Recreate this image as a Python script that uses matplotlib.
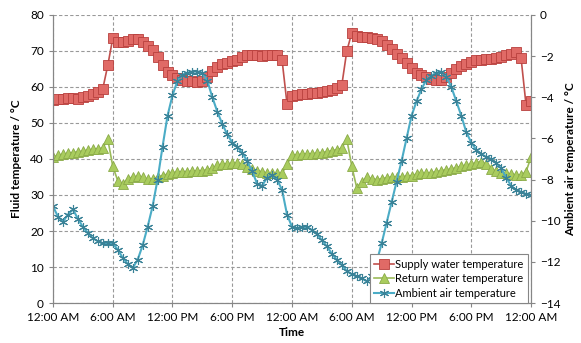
import matplotlib
matplotlib.use("Agg")
import matplotlib.pyplot as plt
import numpy as np

plt.rcParams['font.family'] = ['Lato', 'DejaVu Sans']

# half-hourly readings over two days (hours since midnight)
hours = np.arange(0, 48.5, 0.5)

supply = [56.5, 56.7, 56.8, 57.0, 57.0, 56.8, 57.2, 57.6, 58.0, 58.6,
          59.5, 66.0, 73.5, 72.5, 72.5, 72.8, 73.2, 73.2, 72.6, 71.5,
          70.3, 68.3, 66.2, 64.3, 63.3, 62.5, 62.0, 61.7, 61.6, 61.5,
          61.6, 62.8, 64.5, 65.5, 66.4, 66.8, 67.2, 67.6, 68.2, 68.8,
          69.0, 68.9, 68.7, 68.8, 68.8, 68.9, 67.5, 55.3, 57.5, 57.8,
          58.0, 58.0, 58.2, 58.3, 58.5, 58.8, 59.2, 59.7, 60.5, 70.0,
          75.0, 74.3, 74.0, 73.8, 73.6, 73.3, 72.8, 71.8, 70.6, 69.3,
          68.0, 66.8, 65.2, 64.0, 63.3, 62.8, 62.3, 62.0, 62.0, 62.8,
          64.0, 65.0, 65.8, 66.5, 67.0, 67.4, 67.6, 67.8, 67.9, 68.0,
          68.3, 68.8, 69.3, 69.6, 68.0, 55.0, 56.0]

ret = [40.6, 41.0, 41.3, 41.6, 41.8, 42.0, 42.2, 42.5, 42.7, 42.9,
       43.0, 45.5, 38.0, 34.0, 33.0, 34.5, 35.0, 35.2, 35.0, 34.4,
       34.5, 35.0, 35.4, 35.8, 36.2, 36.4, 36.5, 36.5, 36.6, 36.7,
       36.8, 37.0, 37.5, 38.2, 38.5, 38.7, 38.8, 38.8, 38.5, 37.8,
       37.2, 36.8, 36.4, 36.1, 36.0, 36.0, 36.0, 38.5, 41.0, 41.2,
       41.3, 41.4, 41.5, 41.6, 41.8, 42.0, 42.3, 42.6, 43.0, 45.5,
       38.0, 32.0, 33.5, 35.0, 34.5, 34.3, 34.5, 34.8, 35.0, 35.0,
       35.1, 35.2, 35.4, 35.8, 36.0, 36.0, 36.2, 36.5, 36.8, 37.0,
       37.2, 37.6, 38.0, 38.3, 38.6, 39.0, 39.3, 38.5, 37.2, 36.6,
       36.2, 36.0, 35.8, 35.6, 35.5, 36.5, 40.5]

ambient = [-9.3, -9.8, -10.05, -9.7, -9.45, -9.9, -10.3, -10.6, -10.85, -11.0,
           -11.1, -11.1, -11.1, -11.4, -11.8, -12.1, -12.3, -11.9, -11.2, -10.3,
           -9.3, -8.0, -6.4, -4.9, -3.9, -3.2, -2.9, -2.8, -2.75, -2.75,
           -2.8, -3.2, -4.0, -4.7, -5.3, -5.8, -6.2, -6.4, -6.7, -7.1,
           -7.6, -8.2, -8.3, -7.9, -7.8, -8.0, -8.5, -9.7, -10.3, -10.35,
           -10.3, -10.3, -10.45, -10.65, -10.95, -11.25, -11.6, -11.9, -12.15, -12.45,
           -12.6, -12.7, -12.8, -12.95, -12.7, -12.0, -11.1, -10.1, -9.1, -8.1,
           -7.1, -6.0, -4.9, -4.2, -3.6, -3.15, -2.95, -2.8, -2.75, -3.0,
           -3.5, -4.2, -4.9, -5.7, -6.2, -6.55, -6.75, -6.9, -7.0, -7.2,
           -7.45, -7.9, -8.3, -8.5, -8.6, -8.7, -8.75]

tick_hours = [0, 6, 12, 18, 24, 30, 36, 42, 48]
tick_labels = ["12:00 AM", "6:00 AM", "12:00 PM", "6:00 PM",
               "12:00 AM", "6:00 AM", "12:00 PM", "6:00 PM", "12:00 AM"]

fig = plt.figure(figsize=(5.81, 3.43), dpi=100)
ax = fig.add_axes([0.0912, 0.1166, 0.8228, 0.8397])
ax2 = ax.twinx()

l1, = ax.plot(hours, supply, color="#C0504D", lw=1.2, marker="s", ms=6.5,
              mfc="#E06A66", mec="#B8403D", mew=0.6,
              label="Supply water temperature")
l2, = ax.plot(hours, ret, color="#9BBB59", lw=1.2, marker="^", ms=6.5,
              mfc="#A9CC5E", mec="#8AAA48", mew=0.6,
              label="Return water temperature")
l3, = ax2.plot(hours, ambient, color="#4BACC6", lw=1.5, marker=(6, 2, 0), ms=6.5,
               mec="#3A8297", mew=0.8,
               label="Ambient air temperature")

grey = "#868686"
ax.set_xlim(0, 48)
ax.set_ylim(0, 80)
ax2.set_ylim(-14, 0)
ax.set_xticks(tick_hours)
ax.set_xticklabels(tick_labels)
ax.set_yticks(range(0, 81, 10))
ax2.set_yticks(range(-14, 1, 2))

ax.grid(True, color="#999999", ls=(0, (3, 2)), lw=0.8)
ax.set_axisbelow(True)

for a in (ax, ax2):
    a.spines["top"].set_visible(False)
    for s in ("left", "right", "bottom"):
        a.spines[s].set_color(grey)
    a.tick_params(colors=grey, labelcolor="black", labelsize=8.5, length=3)

ax.set_xlabel("Time", fontsize=8.5, fontweight="bold", labelpad=3)
ax.set_ylabel("Fluid temperature / °C", fontsize=8.5, fontweight="bold", labelpad=6)
ax2.set_ylabel("Ambient air temperature / °C", fontsize=8.5, fontweight="bold", labelpad=3)

leg = ax2.legend(handles=[l1, l2, l3], loc="lower right",
                 bbox_to_anchor=(0.994, 0.0), borderaxespad=0,
                 fontsize=8, fancybox=False, framealpha=1,
                 handlelength=1.8, handletextpad=0.1, labelspacing=0.3,
                 borderpad=0.4)
leg.get_frame().set_edgecolor(grey)
leg.get_frame().set_linewidth(0.8)

fig.savefig("out.png", dpi=100)
